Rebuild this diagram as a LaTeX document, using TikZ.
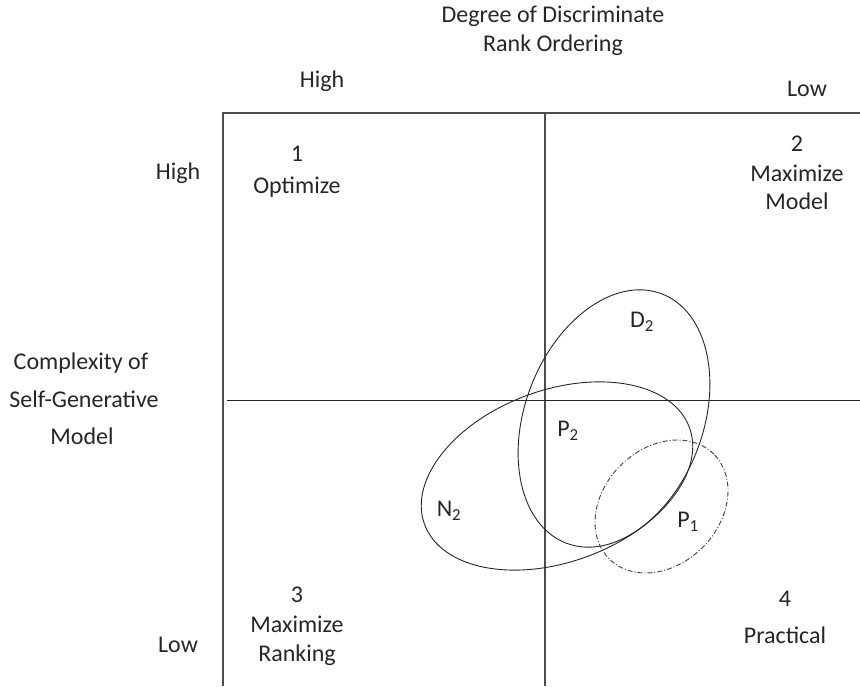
\documentclass[tikz,border=0pt]{standalone}
\usepackage{fontspec}
\setmainfont{Carlito}
\begin{document}
\begin{tikzpicture}[x=1pt,y=1pt,
  lbl/.style={anchor=base,inner sep=0pt,text=black!85,font=\fontsize{24}{29}\selectfont},
  frame/.style={draw=black!70,line width=1.4pt},
  axisline/.style={draw=black!85,line width=1pt},
  region/.style={draw=black!85,line width=0.9pt},
  regiondd/.style={draw=black!75,line width=0.9pt,dash pattern=on 5pt off 2pt on 1pt off 2pt}]
\useasboundingbox (0,0) rectangle (860,686);

% quadrant frame
\coordinate (tl) at (223,573);
\coordinate (tr) at (860,573);
\coordinate (bl) at (223,0);
\coordinate (tm) at (545,573);
\coordinate (bm) at (545,0);
\coordinate (ml) at (227,285);
\coordinate (mr) at (860,285);
\draw[frame] (tr) -- (tl) -- (bl);
\draw[frame] (tm) -- (bm);
\draw[axisline] (ml) -- (mr);

% axis titles
\node[lbl] (deg1) at (553,663) {Degree of Discriminate};
\node[lbl] (deg2) at (553,634) {Rank Ordering};
\node[lbl] (hightop) at (322,598) {High};
\node[lbl] (lowtop) at (807,589) {Low};
\node[lbl] (highleft) at (178,506) {High};
\node[lbl] (lowleft) at (178,34) {Low};
\node[lbl] (cx1) at (81,316) {Complexity of};
\node[lbl] (cx2) at (84,278) {Self-Generative};
\node[lbl] (cx3) at (82,241) {Model};

% quadrant labels
\node[lbl] (q1n) at (297,524) {1};
\node[lbl] (q1t) at (297,492) {Optimize};
\node[lbl] (q2n) at (797,534) {2};
\node[lbl] (q2a) at (797,504) {Maximize};
\node[lbl] (q2b) at (797,476) {Model};
\node[lbl] (q3n) at (297,83) {3};
\node[lbl] (q3a) at (297,53) {Maximize};
\node[lbl] (q3b) at (297,24) {Ranking};
\node[lbl] (q4n) at (785,79) {4};
\node[lbl] (q4t) at (785,43) {Practical};

% overlapping regions
\draw[region] (614,267.5) ellipse[x radius=89,y radius=133.5,rotate=-21];
\draw[region] (557,210) ellipse[x radius=141,y radius=86,rotate=20];
\draw[regiondd] (661.5,179.5) ellipse[x radius=74,y radius=58,rotate=45];

\node[lbl] (d2) at (642,358) {D\textsubscript{2}};
\node[lbl] (p2) at (568,249) {P\textsubscript{2}};
\node[lbl] (n2) at (449,169) {N\textsubscript{2}};
\node[lbl] (p1) at (688,158) {P\textsubscript{1}};
\end{tikzpicture}
\end{document}
